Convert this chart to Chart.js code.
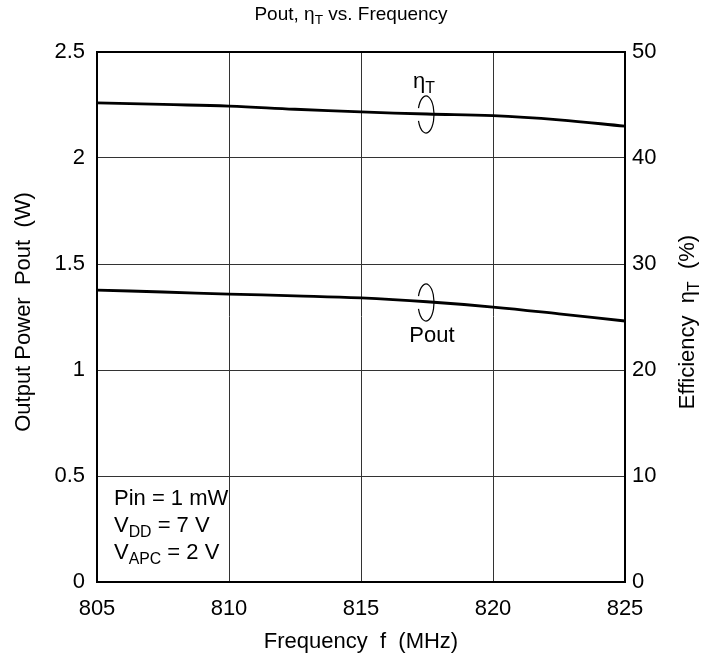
<!DOCTYPE html>
<html>
<head>
<meta charset="utf-8">
<script src="https://cdn.jsdelivr.net/npm/chart.js@4"></script>
<style>
  html, body { margin: 0; padding: 0; background: #fff; }
  #wrap { width: 703px; height: 664px; }
</style>
</head>
<body>
<div id="wrap"><canvas id="myChart" width="703" height="664"></canvas></div>
<script>
const freqs = [805, 807.5, 810, 812.5, 815, 817.5, 820, 822.5, 825];
const pout = [1.377, 1.368, 1.358, 1.35, 1.34, 1.322, 1.297, 1.265, 1.231];
const eff = [45.2, 45.05, 44.9, 44.6, 44.35, 44.15, 44.0, 43.6, 43.0];
const xTicks = [805, 810, 815, 820, 825];

const FONT = 'Liberation Sans, Arial, sans-serif';

// text pieces with optional subscript
function textWidth(ctx, parts, size) {
  let w = 0;
  parts.forEach(p => {
    ctx.font = (p.sub ? size * 0.72 : size) + 'px ' + FONT;
    w += ctx.measureText(p.t).width;
  });
  return w;
}
function drawParts(ctx, parts, x, y, size) {
  parts.forEach(p => {
    const s = p.sub ? size * 0.72 : size;
    ctx.font = s + 'px ' + FONT;
    ctx.fillText(p.t, x, p.sub ? y + size * 0.3 : y);
    x += ctx.measureText(p.t).width;
  });
}
function drawCentered(ctx, parts, cx, cy, size, rot) {
  ctx.save();
  ctx.translate(cx, cy);
  if (rot) ctx.rotate(rot);
  ctx.textBaseline = 'middle';
  ctx.textAlign = 'left';
  ctx.fillStyle = '#000';
  const w = textWidth(ctx, parts, size);
  drawParts(ctx, parts, -w / 2, 0, size);
  ctx.restore();
}

const decor = {
  id: 'decor',
  afterDraw(chart) {
    const ctx = chart.ctx;
    const a = chart.chartArea;
    const xs = chart.scales.x;

    // frame
    ctx.save();
    ctx.strokeStyle = '#000';
    ctx.lineWidth = 2;
    ctx.strokeRect(a.left, a.top, a.right - a.left, a.bottom - a.top);
    ctx.restore();

    // titles
    drawCentered(ctx, [{t: 'Pout, '}, {t: 'η'}, {t: 'T', sub: true}, {t: ' vs. Frequency'}], 351, 15, 19);
    drawCentered(ctx, [{t: 'Frequency  f  (MHz)'}], 361, 642, 22);
    drawCentered(ctx, [{t: 'Output Power  Pout  (W)'}], 24, 312, 22, -Math.PI / 2);
    drawCentered(ctx, [{t: 'Efficiency  η'}, {t: 'T', sub: true}, {t: '  (%)'}], 688, 322, 22, -Math.PI / 2);

    // curve markers
    ctx.save();
    ctx.strokeStyle = '#000';
    ctx.lineWidth = 1.2;
    const ex = xs.getPixelForValue(817.5) - 1;
    [[ex, 114.5], [ex, 302.5]].forEach(([cx, cy]) => {
      ctx.beginPath();
      ctx.ellipse(cx, cy, 8, 18.5, 0, Math.PI + 0.35, 3 * Math.PI - 0.35);
      ctx.stroke();
    });
    ctx.restore();
    drawCentered(ctx, [{t: 'η'}, {t: 'T', sub: true}], 424, 82, 22);
    drawCentered(ctx, [{t: 'Pout'}], 432, 336, 22);

    // conditions
    ctx.save();
    ctx.fillStyle = '#000';
    ctx.textBaseline = 'middle';
    drawParts(ctx, [{t: 'Pin = 1 mW'}], 114, 499, 22);
    drawParts(ctx, [{t: 'V'}, {t: 'DD', sub: true}, {t: ' = 7 V'}], 114, 526, 22);
    drawParts(ctx, [{t: 'V'}, {t: 'APC', sub: true}, {t: ' = 2 V'}], 114, 553, 22);
    ctx.restore();
  }
};

const config = {
  type: 'line',
  data: {
    datasets: [
      {
        label: 'Pout',
        data: freqs.map((f, i) => ({x: f, y: pout[i]})),
        yAxisID: 'y',
        borderColor: '#000',
        borderWidth: 2.8,
        pointRadius: 0,
        tension: 0.4,
        fill: false
      },
      {
        label: 'eta',
        data: freqs.map((f, i) => ({x: f, y: eff[i]})),
        yAxisID: 'y2',
        borderColor: '#000',
        borderWidth: 2.8,
        pointRadius: 0,
        tension: 0.4,
        fill: false
      }
    ]
  },
  options: {
    responsive: false,
    animation: false,
    layout: {padding: {top: 52, left: 0, right: 0, bottom: 0}},
    plugins: {legend: {display: false}, tooltip: {enabled: false}},
    scales: {
      x: {
        type: 'linear',
        min: 805, max: 825,
        afterBuildTicks: s => { s.ticks = xTicks.map(v => ({value: v})); },
        afterFit: s => { s.height = 82; },
        ticks: {color: '#000', font: {family: FONT, size: 22}, padding: 14, callback: v => String(v)},
        grid: {color: '#333', lineWidth: 1, drawTicks: false},
        border: {color: '#000', width: 2}
      },
      y: {
        position: 'left',
        min: 0, max: 2.5,
        afterFit: s => { s.width = 97; },
        ticks: {stepSize: 0.5, color: '#000', font: {family: FONT, size: 22}, padding: 12, callback: v => String(v)},
        grid: {color: '#333', lineWidth: 1, drawTicks: false},
        border: {color: '#000', width: 2}
      },
      y2: {
        position: 'right',
        min: 0, max: 50,
        afterFit: s => { s.width = 78; },
        ticks: {stepSize: 10, color: '#000', font: {family: FONT, size: 22}, padding: 7, callback: v => String(v)},
        grid: {drawOnChartArea: false, drawTicks: false},
        border: {color: '#000', width: 2}
      }
    }
  },
  plugins: [decor]
};

new Chart(document.getElementById('myChart'), config);
</script>
</body>
</html>
